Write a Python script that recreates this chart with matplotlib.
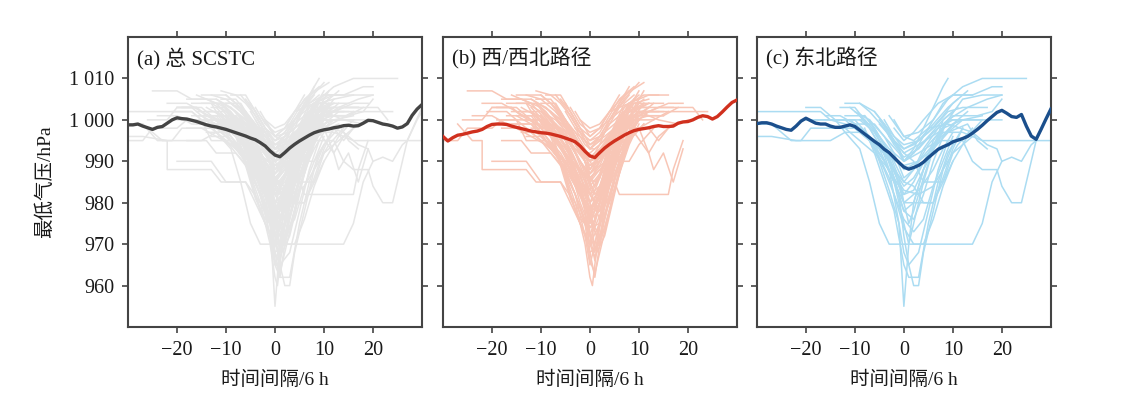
import matplotlib.pyplot as plt

plt.rcParams['font.family'] = ['Liberation Serif', 'Noto Sans CJK SC']
plt.rcParams['axes.unicode_minus'] = True

# 时间间隔 (6 h)
t_mean = list(range(-30, 31))

# 平均最低气压 (hPa)
mean_all = [998.8, 998.8, 999.0, 998.5, 998.1, 997.7, 998.2, 998.4, 999.2, 1000.0,
            1000.5, 1000.3, 1000.2, 999.9, 999.6, 999.2, 998.8, 998.5, 998.3, 998.0,
            997.7, 997.3, 996.9, 996.5, 996.1, 995.6, 995.2, 994.5, 993.7, 992.5,
            991.5, 991.1, 992.1, 993.2, 994.1, 994.9, 995.6, 996.3, 996.9, 997.3,
            997.6, 997.8, 998.1, 998.3, 998.6, 998.7, 998.5, 998.6, 999.2, 999.9,
            999.8, 999.4, 999.0, 998.8, 998.5, 998.0, 998.3, 999.1, 1001.1, 1002.6, 1003.7]
mean_w = [996.0, 994.9, 995.7, 996.3, 996.5, 996.8, 997.1, 997.3, 997.7, 998.4,
          998.9, 999.0, 999.0, 998.9, 998.5, 998.2, 997.9, 997.6, 997.3, 997.1,
          996.9, 996.8, 996.6, 996.3, 996.0, 995.6, 995.2, 994.7, 993.7, 992.4,
          991.3, 990.9, 992.1, 993.2, 994.1, 994.9, 995.6, 996.3, 996.9, 997.4,
          997.7, 997.9, 998.1, 998.4, 998.6, 998.4, 998.4, 998.5, 999.2, 999.5,
          999.6, 1000.0, 1000.6, 1001.0, 1000.8, 1000.2, 1000.8, 1001.9, 1003.1, 1004.2, 1004.8]
mean_ne = [999.1, 999.3, 999.3, 999.0, 998.5, 998.1, 997.7, 997.5, 998.5, 999.7,
           1000.4, 999.8, 999.2, 999.0, 999.0, 998.5, 998.2, 998.2, 998.5, 998.8,
           998.4, 997.5, 996.6, 995.7, 994.8, 994.0, 992.9, 992.1, 990.9, 989.7,
           988.6, 988.1, 988.5, 989.0, 989.8, 990.9, 991.9, 992.9, 993.5, 994.0,
           994.7, 995.1, 995.5, 996.0, 996.8, 997.7, 998.7, 999.8, 1000.8, 1001.8,
           1002.3, 1001.6, 1000.8, 1000.6, 1001.3, 998.5, 996.1, 995.3, 997.7, 1000.2, 1002.6]

# 西/西北路径 个例 (时间, 气压)
tracks_w = [
    [(-25, 1007), (-20, 1007), (-17, 1005), (-12, 1005), (-8, 1002), (-4, 998), (-1, 992), (0, 988), (2, 992), (5, 998), (8, 1002), (12, 1004)],
    [(-27, 999), (-24, 995), (-22, 995), (-22, 988), (-13, 988), (-11, 985), (-6, 985), (-3, 980), (0, 972), (2, 980), (4, 990), (7, 998), (10, 1004)],
    [(-30, 995), (-27, 995), (-25, 998), (-20, 998), (-18, 1000), (-10, 1000), (-6, 998), (-3, 993), (0, 990), (3, 994), (6, 999), (10, 1002), (15, 1002)],
    [(-20, 1003), (-15, 1003), (-12, 1000), (-9, 995), (-6, 990), (-3, 982), (-1, 972), (0, 965), (1, 970), (3, 982), (5, 992), (7, 1000), (9, 1005)],
    [(-18, 1005), (-14, 1005), (-10, 1003), (-8, 1000), (-5, 995), (-2, 985), (0, 975), (1, 978), (3, 988), (5, 996), (8, 1004)],
    [(-16, 1002), (-12, 1002), (-9, 998), (-7, 995), (-4, 990), (-2, 985), (0, 980), (2, 986), (4, 995), (6, 1000), (10, 1000)],
    [(-15, 1006), (-10, 1006), (-8, 1004), (-5, 1000), (-3, 995), (-1, 990), (0, 985), (2, 990), (4, 996), (7, 1004), (9, 1006)],
    [(-13, 1000), (-9, 1000), (-7, 996), (-5, 992), (-3, 986), (-1, 978), (0, 968), (1, 962), (2, 970), (3, 980), (5, 990), (8, 1000)],
    [(-10, 1004), (-7, 1004), (-5, 1000), (-3, 996), (-1, 992), (0, 990), (2, 994), (4, 1000), (6, 1004), (8, 1008)],
    [(-12, 1003), (-8, 998), (-6, 994), (-4, 990), (-2, 985), (0, 982), (2, 986), (4, 994), (6, 1000), (8, 1003), (12, 1003)],
    [(-14, 997), (-11, 997), (-8, 994), (-5, 990), (-3, 985), (-1, 980), (0, 975), (2, 982), (4, 990), (6, 997), (8, 1002)],
    [(-9, 1006), (-6, 1006), (-4, 1002), (-2, 998), (0, 994), (2, 996), (4, 1000), (7, 1005), (10, 1009)],
    [(-20, 990), (-13, 990), (-10, 985), (-6, 985), (-4, 980), (-2, 975), (0, 970), (2, 975), (4, 985), (6, 992), (9, 1000), (12, 1001)],
    [(-8, 1002), (-5, 998), (-3, 995), (-1, 990), (0, 987), (1, 989), (3, 993), (5, 998), (7, 1002), (10, 1002), (14, 1000), (18, 999)],
    [(-17, 1001), (-12, 1001), (-10, 998), (-7, 998), (-5, 995), (-3, 990), (-1, 983), (0, 978), (2, 984), (4, 992), (6, 999), (9, 1004)],
    [(-6, 1000), (-4, 996), (-2, 992), (0, 992), (2, 994), (5, 998), (9, 1000), (13, 1000), (16, 1002)],
    [(-11, 1005), (-8, 1005), (-6, 1002), (-3, 996), (-1, 990), (0, 986), (1, 984), (3, 990), (5, 996), (8, 1002), (11, 1005)],
    [(-5, 1004), (-3, 1000), (-1, 996), (0, 995), (2, 997), (4, 1001), (6, 1005), (9, 1008)],
    [(-19, 1000), (-15, 1000), (-13, 995), (-9, 995), (-6, 990), (-3, 980), (-1, 970), (0, 962), (0.5, 960), (1, 965), (2, 975), (4, 986), (6, 995), (8, 1000)],
    [(-12, 998), (-8, 998), (-6, 994), (-4, 988), (-2, 980), (0, 974), (1, 976), (3, 985), (5, 994), (7, 1000)],
    [(-7, 1003), (-5, 1000), (-3, 997), (-1, 993), (0, 991), (2, 993), (4, 996), (8, 998), (12, 998), (14, 995), (16, 998), (20, 1000)],
    [(-10, 1000), (-7, 996), (-5, 992), (-2, 988), (0, 985), (2, 988), (5, 985), (6, 982), (16, 982), (17, 988), (19, 995)],
    [(-15, 1004), (-11, 1004), (-9, 1001), (-6, 997), (-4, 993), (-2, 988), (0, 982), (2, 978), (3, 983), (5, 992), (7, 998), (10, 1002)],
    [(-4, 1001), (-2, 997), (0, 993), (1, 993), (3, 995), (6, 998), (10, 998), (12, 992), (13, 988), (15, 992), (17, 985), (19, 993)],
    [(-22, 1004), (-18, 1004), (-15, 1002), (-12, 1000), (-8, 997), (-5, 993), (-2, 987), (0, 980), (1, 968), (2, 974), (4, 984), (6, 993), (8, 999), (11, 1004)],
    [(-9, 998), (-6, 994), (-4, 990), (-2, 984), (-1, 978), (0, 972), (1, 966), (2, 972), (4, 982), (6, 990), (8, 996), (10, 1000)],
    [(-3, 1002), (-1, 998), (0, 996), (2, 998), (4, 1002), (7, 1006), (11, 1009)],
    [(-13, 1004), (-10, 1002), (-8, 999), (-6, 995), (-3, 990), (-1, 985), (0, 980), (1, 976), (3, 984), (5, 993), (7, 999), (10, 1002), (14, 1002)],
    [(-18, 995), (-14, 995), (-12, 992), (-8, 992), (-5, 988), (-3, 982), (-1, 976), (0, 970), (1, 975), (3, 984), (5, 992), (7, 996)],
    [(-6, 1005), (-4, 1002), (-2, 998), (0, 996), (2, 998), (4, 1002), (6, 1006)],
    [(-11, 1001), (-8, 998), (-5, 994), (-3, 990), (-1, 986), (0, 983), (2, 986), (4, 992), (6, 998), (9, 1001), (15, 1001)],
    [(-14, 1002), (-10, 1002), (-7, 1000), (-4, 996), (-2, 992), (0, 988), (2, 991), (4, 996), (7, 1000), (10, 1003), (17, 1003)],
    [(-8, 1000), (-5, 997), (-3, 992), (-1, 986), (0, 982), (1, 980), (2, 978), (4, 986), (6, 994), (8, 1000)],
    [(-26, 1000), (-22, 1000), (-20, 1003), (-16, 1003), (-14, 1001), (-10, 1001), (-7, 998), (-4, 994), (-2, 990), (0, 987), (2, 990), (5, 996), (8, 1000), (12, 1003)],
    [(-2, 1000), (0, 998), (2, 999), (4, 1002), (8, 1004), (12, 1004)],
    [(-16, 999), (-12, 999), (-10, 996), (-7, 992), (-5, 988), (-3, 984), (-1, 980), (0, 978), (2, 982), (4, 990), (6, 996), (9, 1000)],
    [(-10, 1006), (-7, 1003), (-5, 1000), (-2, 994), (0, 990), (1, 988), (3, 992), (5, 998), (7, 1003), (10, 1006)],
    [(-7, 999), (-5, 996), (-3, 992), (-1, 988), (0, 986), (2, 988), (4, 991), (6, 994), (9, 997), (12, 992), (14, 996), (17, 999)],
    [(-12, 1002), (-9, 1000), (-6, 996), (-4, 991), (-2, 985), (0, 978), (1, 973), (2, 970), (3, 976), (5, 986), (7, 994), (10, 1000)],
    [(-5, 1002), (-3, 998), (-1, 994), (0, 993), (2, 995), (4, 999), (7, 1002), (12, 1002), (20, 1002), (24, 1002)],
    [(-21, 1002), (-17, 1002), (-14, 999), (-10, 999), (-8, 996), (-5, 992), (-3, 987), (-1, 980), (0, 976), (2, 980), (4, 988), (6, 995), (9, 1000)],
    [(-9, 1003), (-6, 1000), (-4, 997), (-2, 993), (0, 990), (2, 992), (4, 995), (6, 990), (8, 990), (10, 994), (13, 998)],
    [(-4, 1003), (-2, 999), (0, 997), (2, 998), (5, 1001), (8, 1004), (12, 1006), (16, 1006)],
    [(-13, 996), (-10, 996), (-7, 993), (-5, 989), (-3, 984), (-1, 979), (0, 977), (1, 980), (3, 987), (5, 994), (8, 999)],
    [(-6, 1001), (-3, 997), (0, 994), (3, 996), (6, 999), (10, 1001), (15, 1001), (18, 1003), (21, 1003), (23, 1000)],
    [(-3, 998), (0, 995), (2, 996), (5, 999), (8, 1002), (12, 1002), (16, 1004), (19, 1004)],
    [(-16, 1006), (-12, 1004), (-9, 1000), (-7, 996), (-5, 992), (-3, 988), (-1, 984), (0, 982), (2, 984), (4, 990), (6, 997), (8, 1003), (10, 1007)],
    [(-14, 1003), (-11, 1001), (-8, 997), (-6, 993), (-4, 990), (-2, 988), (0, 986), (3, 990), (6, 995), (9, 1000), (13, 1004)],
    [(-12, 1000), (-10, 997), (-8, 993), (-6, 990), (-4, 987), (-2, 983), (0, 976), (2, 978), (4, 984), (6, 990), (8, 995), (11, 999)],
    [(-17, 1004), (-13, 1004), (-11, 1000), (-9, 996), (-7, 992), (-5, 987), (-3, 982), (-1, 975), (0, 966), (1, 963), (2, 968), (4, 978), (6, 988), (8, 996)],
    [(-11, 1007), (-8, 1006), (-6, 1004), (-4, 1001), (-2, 997), (0, 993), (2, 995), (4, 999), (6, 1003), (8, 1006)],
    [(-9, 1001), (-7, 999), (-5, 996), (-3, 993), (-1, 990), (0, 989), (2, 990), (4, 993), (7, 997), (10, 1001), (14, 1003), (18, 1003)],
    [(-13, 998), (-10, 995), (-8, 992), (-6, 989), (-4, 985), (-2, 979), (0, 972), (1, 969), (3, 974), (5, 983), (7, 991), (9, 998)],
    [(-19, 1003), (-16, 1003), (-14, 1001), (-11, 999), (-8, 996), (-6, 993), (-4, 989), (-2, 983), (0, 977), (2, 981), (4, 989), (6, 996), (8, 1001)],
    [(-7, 1006), (-5, 1003), (-3, 999), (-1, 995), (0, 993), (2, 996), (4, 1000), (6, 1004), (8, 1007)],
    [(-10, 995), (-8, 993), (-6, 990), (-4, 987), (-2, 982), (0, 979), (2, 981), (4, 986), (6, 991), (8, 995), (11, 999)],
    [(-15, 1001), (-12, 999), (-9, 996), (-6, 992), (-3, 986), (-1, 980), (0, 973), (1, 970), (2, 975), (4, 984), (6, 992), (9, 999), (12, 1002)],
    [(-8, 1004), (-6, 1001), (-4, 997), (-2, 993), (0, 989), (2, 991), (4, 995), (6, 1000), (8, 1004), (11, 1006), (14, 1006)],
    [(-6, 997), (-4, 994), (-2, 990), (0, 986), (1, 985), (3, 988), (5, 993), (7, 998), (9, 1001)],
    [(-11, 1004), (-9, 1002), (-7, 999), (-5, 996), (-3, 992), (-1, 988), (0, 984), (2, 987), (4, 993), (6, 999), (9, 1004), (12, 1005)],
    [(-24, 1001), (-20, 1001), (-17, 999), (-14, 999), (-11, 996), (-8, 993), (-5, 990), (-3, 986), (-1, 980), (0, 977), (1, 974), (3, 980), (5, 989), (7, 995), (10, 1000)],
    [(-5, 999), (-3, 995), (-1, 991), (0, 990), (2, 991), (4, 994), (6, 998), (9, 1002), (12, 1004), (15, 1004)],
    [(-13, 1006), (-10, 1005), (-7, 1002), (-5, 999), (-3, 995), (-1, 990), (0, 987), (2, 989), (4, 994), (6, 1000), (9, 1005)],
    [(-9, 996), (-7, 993), (-5, 989), (-3, 985), (-1, 980), (0, 976), (2, 972), (3, 976), (5, 985), (7, 993), (9, 999)],
    [(-4, 996), (-2, 993), (0, 990), (2, 992), (4, 995), (6, 999), (8, 1002), (11, 1004)],
    [(-18, 998), (-15, 998), (-12, 996), (-9, 994), (-6, 991), (-4, 988), (-2, 984), (0, 980), (2, 983), (4, 988), (7, 994), (10, 998), (13, 1000)],
    [(-7, 1002), (-5, 999), (-3, 995), (-1, 990), (0, 985), (1, 982), (3, 986), (5, 992), (7, 998), (9, 1003), (11, 1007)],
    [(-12, 1005), (-9, 1003), (-6, 999), (-4, 995), (-2, 990), (0, 984), (1, 979), (2, 976), (4, 982), (6, 990), (8, 997), (10, 1001)],
    [(-10, 1001), (-8, 997), (-6, 990), (-4, 982), (-2, 975), (0, 970), (1, 967), (3, 972), (5, 982), (7, 992), (9, 998)],
    [(-9, 999), (-7, 994), (-5, 986), (-3, 978), (-1, 972), (0, 968), (2, 970), (4, 978), (6, 988), (8, 995)],
    [(-8, 996), (-6, 989), (-4, 981), (-2, 976), (0, 974), (2, 975), (4, 980), (6, 987), (8, 994), (10, 999)],
]

# 东北路径 个例 (时间, 气压)
tracks_ne = [
    [(-30, 1002), (-17, 1002), (-15, 1000), (-8, 1000), (-5, 996), (-2, 990), (0, 985), (2, 988), (4, 993), (7, 998), (10, 1000), (20, 1000)],
    [(-30, 999), (-27, 999), (-25, 997), (-23, 995), (-21, 995), (-19, 998), (-12, 998), (-9, 995), (-6, 992), (-3, 988), (0, 982), (2, 985), (5, 992), (8, 997)],
    [(-30, 996), (-27, 996), (-22, 995), (-15, 995), (-12, 997), (-8, 997), (-5, 993), (-2, 985), (0, 975), (1, 970), (2, 975), (4, 985), (6, 993), (8, 1000), (10, 1002)],
    [(-20, 1003), (-17, 1003), (-14, 1000), (-10, 1000), (-7, 996), (-4, 990), (-2, 985), (0, 978), (2, 980), (4, 988), (7, 995), (9, 1000), (12, 1000)],
    [(-18, 1000), (-14, 1000), (-12, 997), (-9, 993), (-7, 985), (-5, 975), (-3, 970), (0, 970), (14, 970), (16, 975), (18, 985), (20, 990)],
    [(-10, 1002), (-7, 1000), (-5, 995), (-3, 988), (-1, 975), (0, 955), (1, 970), (2, 980), (4, 988), (6, 995), (9, 1000)],
    [(-8, 998), (-6, 992), (-4, 985), (-2, 978), (0, 965), (1, 962), (3, 962), (5, 975), (7, 985), (9, 992), (12, 998)],
    [(-12, 1001), (-8, 1001), (-6, 998), (-3, 992), (-1, 986), (0, 980), (2, 980), (6, 980), (8, 985), (10, 992), (14, 996)],
    [(-5, 1000), (-3, 997), (-1, 993), (0, 990), (2, 993), (4, 998), (6, 1003), (8, 1008), (9, 1010)],
    [(-15, 1000), (-12, 1000), (-9, 997), (-6, 994), (-4, 992), (-1, 990), (0, 988), (3, 990), (6, 994), (9, 1000), (12, 1005), (16, 1006), (20, 1006)],
    [(-3, 1001), (0, 996), (3, 997), (6, 1000), (9, 1005), (12, 1008), (16, 1010), (25, 1010)],
    [(-10, 999), (-7, 996), (-5, 990), (-3, 983), (-1, 975), (0, 968), (1, 965), (3, 968), (5, 978), (7, 988), (9, 995)],
    [(-6, 1002), (-4, 999), (-2, 995), (0, 992), (2, 990), (4, 985), (8, 985), (10, 990), (13, 996), (16, 1000)],
    [(-13, 1003), (-10, 1003), (-8, 1000), (-5, 996), (-3, 993), (0, 990), (2, 992), (5, 996), (8, 1000), (11, 1003)],
    [(-9, 1001), (-7, 998), (-5, 994), (-3, 990), (-1, 985), (0, 983), (3, 982), (6, 984), (9, 990), (11, 994), (14, 998)],
    [(-4, 998), (-2, 994), (0, 991), (3, 993), (6, 997), (9, 1000), (13, 1003), (17, 1005), (20, 1006)],
    [(-11, 1000), (-8, 997), (-6, 993), (-4, 988), (-2, 982), (0, 976), (2, 973), (4, 976), (6, 984), (8, 990), (10, 996)],
    [(-7, 1000), (-4, 996), (-1, 992), (0, 990), (3, 992), (7, 995), (12, 995), (14, 990), (16, 988), (19, 988), (20, 984), (22, 980), (24, 980), (25, 985), (27, 995), (30, 1003)],
    [(-2, 1000), (0, 996), (2, 995), (5, 998), (9, 999), (14, 997), (17, 994), (19, 993), (20, 990), (22, 991), (24, 990), (26, 994), (27, 995), (30, 995)],
    [(-8, 1001), (-6, 998), (-4, 994), (-2, 988), (0, 980), (1, 975), (2, 978), (4, 986), (6, 993), (8, 998), (10, 1001), (15, 1001), (18, 1002), (20, 1005)],
    [(-16, 1001), (-13, 1001), (-10, 999), (-6, 999), (-4, 996), (-2, 992), (0, 986), (2, 988), (5, 994), (8, 998), (12, 1000), (16, 1000)],
    [(-5, 995), (-3, 990), (-1, 982), (0, 972), (1, 965), (2, 960), (3, 960), (4, 968), (6, 978), (8, 988), (10, 994)],
    [(-3, 996), (-1, 993), (0, 990), (2, 992), (4, 996), (6, 1000), (8, 1004), (10, 1006), (14, 1006)],
    [(-14, 1000), (-11, 1000), (-9, 998), (-6, 995), (-3, 990), (-1, 985), (0, 982), (2, 983), (4, 988), (6, 993), (9, 997), (13, 999), (15, 995), (17, 993)],
    [(-6, 997), (-4, 993), (-2, 986), (0, 978), (2, 976), (4, 982), (6, 990), (8, 996), (11, 1000)],
    [(-12, 1004), (-9, 1004), (-7, 1002), (-4, 998), (-2, 995), (0, 993), (3, 995), (6, 999), (9, 1003), (11, 1005)],
    [(-2, 998), (0, 995), (2, 997), (4, 1000), (7, 1004), (10, 1006), (14, 1006), (18, 1008), (20, 1008)],
    [(-9, 1000), (-6, 997), (-4, 993), (-2, 988), (0, 985), (2, 984), (4, 980), (6, 980), (8, 986), (10, 993), (12, 998)],
    [(-5, 999), (-2, 995), (0, 992), (3, 994), (7, 997), (12, 997), (16, 995), (27, 995), (29, 1000), (30, 1002)],
    [(-20, 1000), (-15, 1000), (-12, 999), (-9, 998), (-7, 995), (-4, 990), (-2, 985), (0, 980), (3, 983), (6, 988), (8, 993), (10, 997)],
    [(-11, 1003), (-9, 1001), (-7, 998), (-5, 994), (-3, 990), (-1, 986), (0, 984), (2, 986), (4, 990), (7, 995), (10, 999), (13, 1002)],
    [(-4, 1000), (-2, 996), (0, 993), (2, 994), (5, 997), (8, 1001), (10, 1004), (13, 1007)],
    [(-7, 995), (-5, 991), (-3, 986), (-1, 978), (0, 974), (2, 970), (4, 970), (6, 976), (8, 984), (10, 990)],
    [(-13, 998), (-10, 998), (-8, 996), (-6, 994), (-3, 991), (0, 989), (3, 990), (6, 993), (9, 997), (12, 1000), (16, 1001)],
    [(-9, 1004), (-6, 1002), (-4, 999), (-2, 996), (0, 994), (3, 995), (6, 998), (9, 1002), (12, 1003), (17, 1003)],
]

panels = [
    ("(a) 总 SCSTC", tracks_w + tracks_ne, mean_all, "#e6e6e6", "#444444"),
    ("(b) 西/西北路径", tracks_w, mean_w, "#f8c6b6", "#d0301e"),
    ("(c) 东北路径", tracks_ne, mean_ne, "#abdcf2", "#1b4f8c"),
]

fig = plt.figure(figsize=(11.28, 4.17), dpi=100)
lefts = [0.1135, 0.3927, 0.671]
for i, (title, tracks, mean, c_light, c_mean) in enumerate(panels):
    ax = fig.add_axes([lefts[i], 0.2158, 0.2606, 0.6954])
    for tr in tracks:
        ax.plot([p[0] for p in tr], [p[1] for p in tr], color=c_light, lw=1.1, zorder=1)
    ax.plot(t_mean, mean, color=c_mean, lw=2.4, zorder=3)
    ax.set_xlim(-30, 30)
    ax.set_ylim(950, 1020)
    ax.set_xticks([-20, -10, 0, 10, 20])
    ax.set_yticks([960, 970, 980, 990, 1000, 1010])
    ax.tick_params(direction='out', top=True, right=True, length=4, width=1.2,
                   color='#444444', labelsize=14.5, labelcolor='#1a1a1a', pad=6)
    if i == 0:
        ax.set_yticklabels(["960", "970", "980", "990", "1 000", "1 010"])
        ax.set_ylabel("最低气压/hPa", fontsize=14, color='#1a1a1a', labelpad=11)
    else:
        ax.set_yticklabels([])
    ax.set_xlabel("时间间隔/6 h", fontsize=14, color='#1a1a1a', labelpad=8)
    for s in ax.spines.values():
        s.set_color('#444444')
        s.set_linewidth(1.5)
    ax.text(0.03, 0.965, title, transform=ax.transAxes, fontsize=15,
            va='top', ha='left', color='#1a1a1a')

fig.savefig("out.png", dpi=100)
